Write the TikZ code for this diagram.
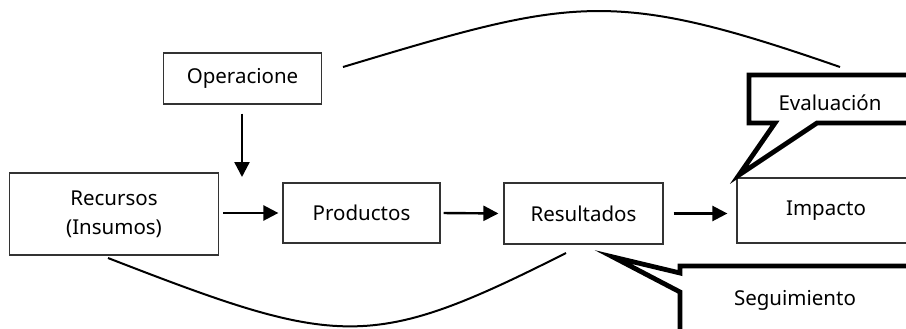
\documentclass[tikz,border=0pt]{standalone}
\usepackage{fontspec}
\setmainfont{Noto Sans}
\usetikzlibrary{arrows.meta}
\newcommand{\boxfont}{\fontsize{20.5}{29}\selectfont}
\begin{document}
\begin{tikzpicture}[x=1pt,y=-1pt,
  box/.style={draw=black!80, line width=1.2pt, inner sep=0pt, font=\boxfont, align=center},
  flow/.style={line width=2.4pt, -{Triangle[length=15pt,width=15pt]}},
  arcline/.style={line width=2pt},
  callout/.style={draw=black, line width=4.8pt, fill=white, line join=miter},
  calltext/.style={font=\boxfont, inner sep=0pt}
]
\useasboundingbox (0,0) rectangle (906,329);
\clip (0,0) rectangle (906,329);

% process chain
\node[box, minimum width=158pt, minimum height=51pt] (op)   at (242.5,78.5) {Operacione};
\node[box, minimum width=209pt, minimum height=82pt] (rec)  at (114,214)    {Recursos\\(Insumos)};
\node[box, minimum width=157pt, minimum height=60pt] (prod) at (361.5,213)  {Productos};
\node[box, minimum width=159pt, minimum height=61pt] (res)  at (583.5,213.5){Resultados};
\node[box, minimum width=178pt, minimum height=65pt] (imp)  at (826,210.5)  {Impacto};

\coordinate (opin) at (242,177);
\draw[flow, shorten <=9pt] (op.south -| opin) -- (opin);
\draw[flow, shorten <=4pt, shorten >=4pt] (rec.east |- prod.west) -- (prod.west);
\draw[flow, shorten <=3pt, shorten >=5pt] (prod.east) -- (res.west);
\draw[flow, shorten <=10pt, shorten >=9pt] (res.east) -- (imp.west |- res.east);

% callouts
\draw[callout] (749,75) -- (930,75) -- (930,123) -- (817,123) -- (739,175)
               -- (775,123) -- (749,123) -- cycle;
\node[calltext] (eval) at (830,103) {Evaluación};

\draw[callout] (680,266) -- (930,266) -- (930,350) -- (680,350) -- (680,292)
               -- (613,257) -- (680,273) -- cycle;
\node[calltext] (seg) at (795,300) {Seguimiento};

% evaluation and monitoring arcs
\coordinate (ta) at (343,67);
\coordinate (tb) at (840,67);
\draw[arcline] (ta) .. controls (573,-2) and (610,-13) .. (tb);
\coordinate (ba) at (108,258);
\coordinate (bb) at (566,253);
\draw[arcline] (ba) .. controls (340,348) and (370,352) .. (bb);
\end{tikzpicture}
\end{document}
